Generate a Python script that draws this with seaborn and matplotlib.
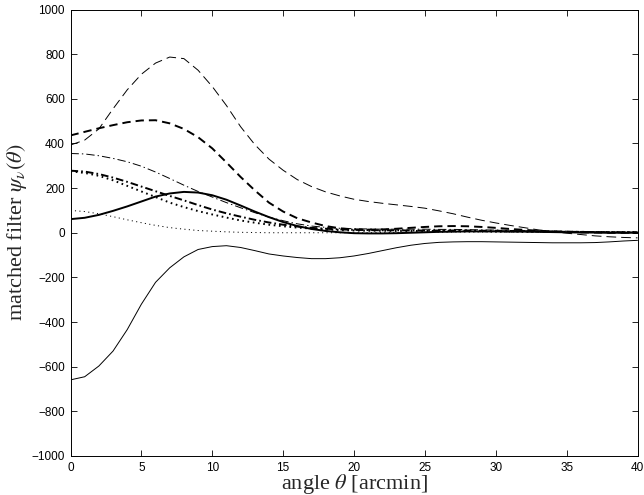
import numpy as np
import pandas as pd
import matplotlib
matplotlib.use("Agg")
import matplotlib.pyplot as plt
import seaborn as sns

# angle theta [arcmin]
theta = list(range(0, 41))

thin_dashed = [393, 415, 465, 555, 640, 710, 760, 787, 780, 728,
               655, 570, 475, 395, 330, 280, 238, 207, 183, 165,
               150, 140, 132, 125, 118, 110, 98, 85, 70, 56,
               44, 33, 23, 13, 5, -2, -8, -14, -18, -21, -23]
thick_dashed = [436, 452, 468, 482, 495, 503, 504, 490, 465, 428,
                378, 315, 250, 190, 135, 95, 65, 46, 30, 20,
                15, 14, 15, 18, 22, 26, 29, 30, 29, 26,
                22, 17, 13, 9, 6, 4, 2, 1, 0, 0, 0]
thin_dashdot = [355, 353, 345, 333, 318, 298, 272, 243, 213, 185,
                160, 135, 112, 90, 70, 54, 40, 30, 24, 20,
                18, 17, 16, 16, 16, 16, 15, 15, 14, 13,
                12, 11, 10, 9, 8, 7, 6, 5, 4, 3, 3]
thick_dashdot = [278, 274, 263, 247, 228, 207, 186, 165, 145, 124,
                 104, 87, 72, 58, 46, 36, 28, 22, 18, 15,
                 13, 12, 11, 11, 10, 10, 10, 10, 10, 9,
                 9, 8, 7, 6, 5, 4, 4, 3, 2, 2, 2]
thick_dotted = [275, 268, 255, 235, 210, 185, 160, 135, 115, 97,
                82, 68, 55, 45, 36, 29, 23, 19, 15, 12,
                10, 9, 9, 8, 8, 8, 8, 7, 7, 7,
                6, 6, 5, 5, 4, 4, 3, 3, 3, 3, 3]
thin_dotted = [100, 95, 85, 72, 58, 45, 33, 23, 16, 10,
               7, 4, 2, 1, 0, 0, 0, 0, 0, 0,
               0, 0, 1, 1, 2, 2, 2, 3, 3, 3,
               3, 3, 3, 3, 2, 2, 2, 1, 1, 1, 0]
thick_solid = [61, 67, 80, 98, 118, 140, 162, 176, 183, 180,
               168, 148, 122, 95, 70, 48, 30, 17, 8, 2,
               -2, -3, -3, -2, 0, 2, 4, 5, 6, 6,
               6, 5, 5, 4, 3, 2, 1, 1, 0, 0, 0]
thin_solid = [-659, -645, -597, -530, -434, -320, -222, -157, -108, -75,
              -62, -58, -66, -80, -95, -104, -111, -116, -116, -112,
              -104, -93, -80, -67, -56, -48, -43, -41, -40, -40,
              -41, -42, -43, -44, -45, -45, -45, -44, -41, -37, -34]

x_ticks = [0, 5, 10, 15, 20, 25, 30, 35, 40]
y_ticks = [-1000, -800, -600, -400, -200, 0, 200, 400, 600, 800, 1000]

sns.set_style("ticks")
plt.rcParams["lines.scale_dashes"] = False
plt.rcParams["font.family"] = ["Liberation Sans", "DejaVu Sans"]
plt.rcParams["mathtext.fontset"] = "stix"

fig = plt.figure(figsize=(6.44, 4.95), dpi=100)
ax = fig.add_axes([70.5 / 644, 1 - 456 / 495, (637.5 - 70.5) / 644, (456 - 9.5) / 495])

series = [
    (thin_solid, 0.7, "-"),
    (thick_solid, 1.4, "-"),
    (thin_dashed, 0.7, (0, (7, 3.6))),
    (thick_dashed, 1.4, (0, (6, 3.6))),
    (thin_dashdot, 0.7, (0, (6, 2.2, 1, 2.2))),
    (thick_dashdot, 1.4, (0, (5.5, 2.2, 1.2, 2.2))),
    (thick_dotted, 1.4, (0, (1.2, 2.6))),
    (thin_dotted, 0.7, (0, (0.8, 2.4))),
]
for vals, lw, ls in series:
    sns.lineplot(x=theta, y=vals, ax=ax, color="black", linewidth=lw,
                 linestyle=ls, estimator=None, errorbar=None, sort=False)

ax.set_xlim(0, 40)
ax.set_ylim(-1000, 1000)
ax.set_xticks(x_ticks)
ax.set_yticks(y_ticks)
ax.tick_params(direction="in", length=4.5, width=0.6, top=True, right=True,
               labelsize=8.5, pad=4, colors="black")
for s in ax.spines.values():
    s.set_visible(True)
    s.set_linewidth(0.7)
    s.set_color("black")

ax.set_xlabel(r"angle $\theta$ [arcmin]", fontfamily="Liberation Serif",
              fontsize=16, labelpad=-1)
ax.set_ylabel(r"matched filter $\psi_\nu(\theta)$", fontfamily="Liberation Serif",
              fontsize=16, labelpad=2)

fig.savefig("out.png", dpi=100)
